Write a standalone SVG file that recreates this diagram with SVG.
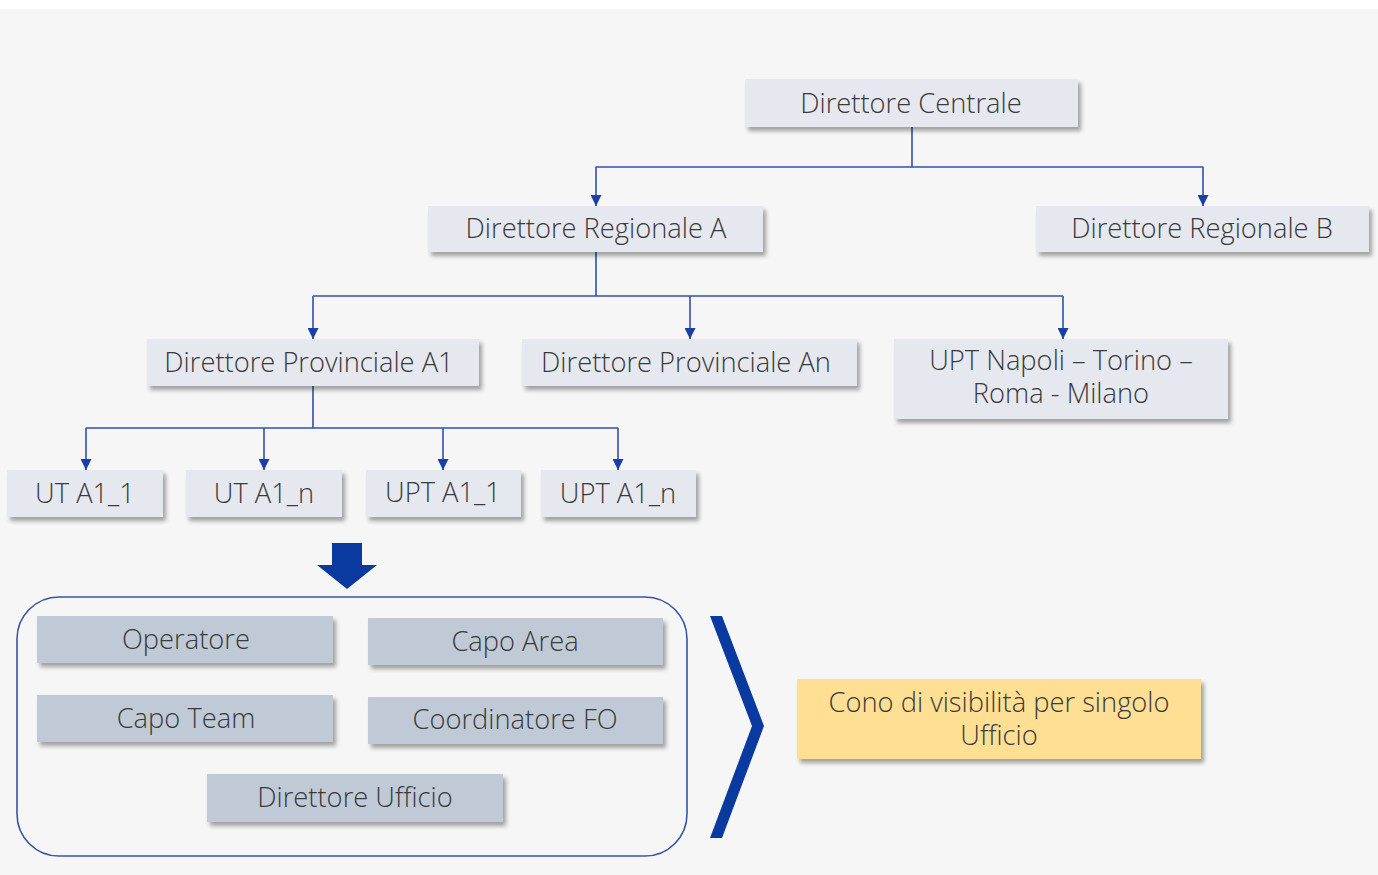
<svg xmlns="http://www.w3.org/2000/svg" width="1378" height="875" viewBox="0 0 1378 875">
<defs>
<filter id="sh" x="-10%" y="-20%" width="125%" height="160%">
<feDropShadow dx="3" dy="4" stdDeviation="2" flood-color="#000" flood-opacity="0.35"/>
</filter>
<marker id="ah" viewBox="0 0 10 10" refX="10" refY="5" markerWidth="11" markerHeight="11" markerUnits="userSpaceOnUse" orient="auto">
<path d="M0,0 L10,5 L0,10 z" fill="#1a40a8"/>
</marker>
</defs>
<style>
.n rect{fill:#e5e8ee;filter:url(#sh)}
.r rect{fill:#bfcad6;filter:url(#sh)}
text{font-family:"Open Sans","Noto Sans","Liberation Sans",sans-serif;font-weight:300;font-size:27.3px;fill:#3a3a3a;text-anchor:middle}
.c{fill:none;stroke:#2f52b0;stroke-width:1.6}
</style>
<rect x="0" y="0" width="1378" height="875" fill="#ffffff"/>
<rect x="0" y="9" width="1378" height="866" fill="#f6f6f6"/>

<g id="connectors">
<path class="c" d="M912,127 V167"/>
<path class="c" d="M596,167 H1203"/>
<path class="c" d="M596,167 V206" marker-end="url(#ah)"/>
<path class="c" d="M1203,167 V206" marker-end="url(#ah)"/>
<path class="c" d="M596,252 V296"/>
<path class="c" d="M313,296 H1063"/>
<path class="c" d="M313,296 V339" marker-end="url(#ah)"/>
<path class="c" d="M690,296 V339" marker-end="url(#ah)"/>
<path class="c" d="M1063,296 V339" marker-end="url(#ah)"/>
<path class="c" d="M313,386 V428"/>
<path class="c" d="M86,428 H618"/>
<path class="c" d="M86,428 V470" marker-end="url(#ah)"/>
<path class="c" d="M264,428 V470" marker-end="url(#ah)"/>
<path class="c" d="M443,428 V470" marker-end="url(#ah)"/>
<path class="c" d="M618,428 V470" marker-end="url(#ah)"/>
</g>

<g id="direttore-centrale" class="n"><rect x="745" y="79" width="333" height="48"/><text x="911" y="113">Direttore Centrale</text></g>
<g id="direttore-regionale-a" class="n"><rect x="428" y="206" width="335" height="46"/><text x="596" y="238">Direttore Regionale A</text></g>
<g id="direttore-regionale-b" class="n"><rect x="1036" y="206" width="333" height="46"/><text x="1202" y="238">Direttore Regionale B</text></g>
<g id="direttore-provinciale-a1" class="n"><rect x="147" y="339" width="332" height="47"/><text x="309" y="372">Direttore Provinciale A1</text></g>
<g id="direttore-provinciale-an" class="n"><rect x="522" y="339" width="335" height="47"/><text x="686" y="372">Direttore Provinciale An</text></g>
<g id="upt-napoli" class="n"><rect x="894" y="339" width="334" height="80"/><text x="1061" y="370">UPT Napoli – Torino –<tspan x="1061" dy="33">Roma - Milano</tspan></text></g>
<g id="ut-a1-1" class="n"><rect x="7" y="470" width="156" height="47"/><text x="85" y="503">UT A1_1</text></g>
<g id="ut-a1-n" class="n"><rect x="186" y="470" width="156" height="47"/><text x="264" y="503">UT A1_n</text></g>
<g id="upt-a1-1" class="n"><rect x="366" y="470" width="155" height="47"/><text x="443" y="502">UPT A1_1</text></g>
<g id="upt-a1-n" class="n"><rect x="541" y="470" width="155" height="47"/><text x="618" y="503">UPT A1_n</text></g>

<g id="down-arrow"><polygon points="332,543 362,543 362,565 377,565 347,589 317,565 332,565" fill="#0a3aa0"/></g>

<g id="ruoli">
<rect x="17" y="597" width="670" height="259" rx="42" ry="42" fill="none" stroke="#3355aa" stroke-width="1.6"/>
<g id="operatore" class="r"><rect x="37" y="616" width="296" height="47"/><text x="186" y="649">Operatore</text></g>
<g id="capo-area" class="r"><rect x="368" y="618" width="295" height="47"/><text x="515" y="651">Capo Area</text></g>
<g id="capo-team" class="r"><rect x="37" y="695" width="296" height="47"/><text x="186" y="728">Capo Team</text></g>
<g id="coordinatore-fo" class="r"><rect x="368" y="697" width="295" height="47"/><text x="515" y="729">Coordinatore FO</text></g>
<g id="direttore-ufficio" class="r"><rect x="207" y="774" width="296" height="48"/><text x="355" y="807">Direttore Ufficio</text></g>
</g>

<g id="chevron"><polygon points="710,616 722,616 764,726 722,838 710,838 752,726" fill="#0a3aa0"/></g>

<g id="cono"><rect x="797" y="679" width="404" height="80" fill="#ffdf94" filter="url(#sh)"/><text x="999" y="712">Cono di visibilità per singolo<tspan x="999" dy="33">Ufficio</tspan></text></g>
</svg>
